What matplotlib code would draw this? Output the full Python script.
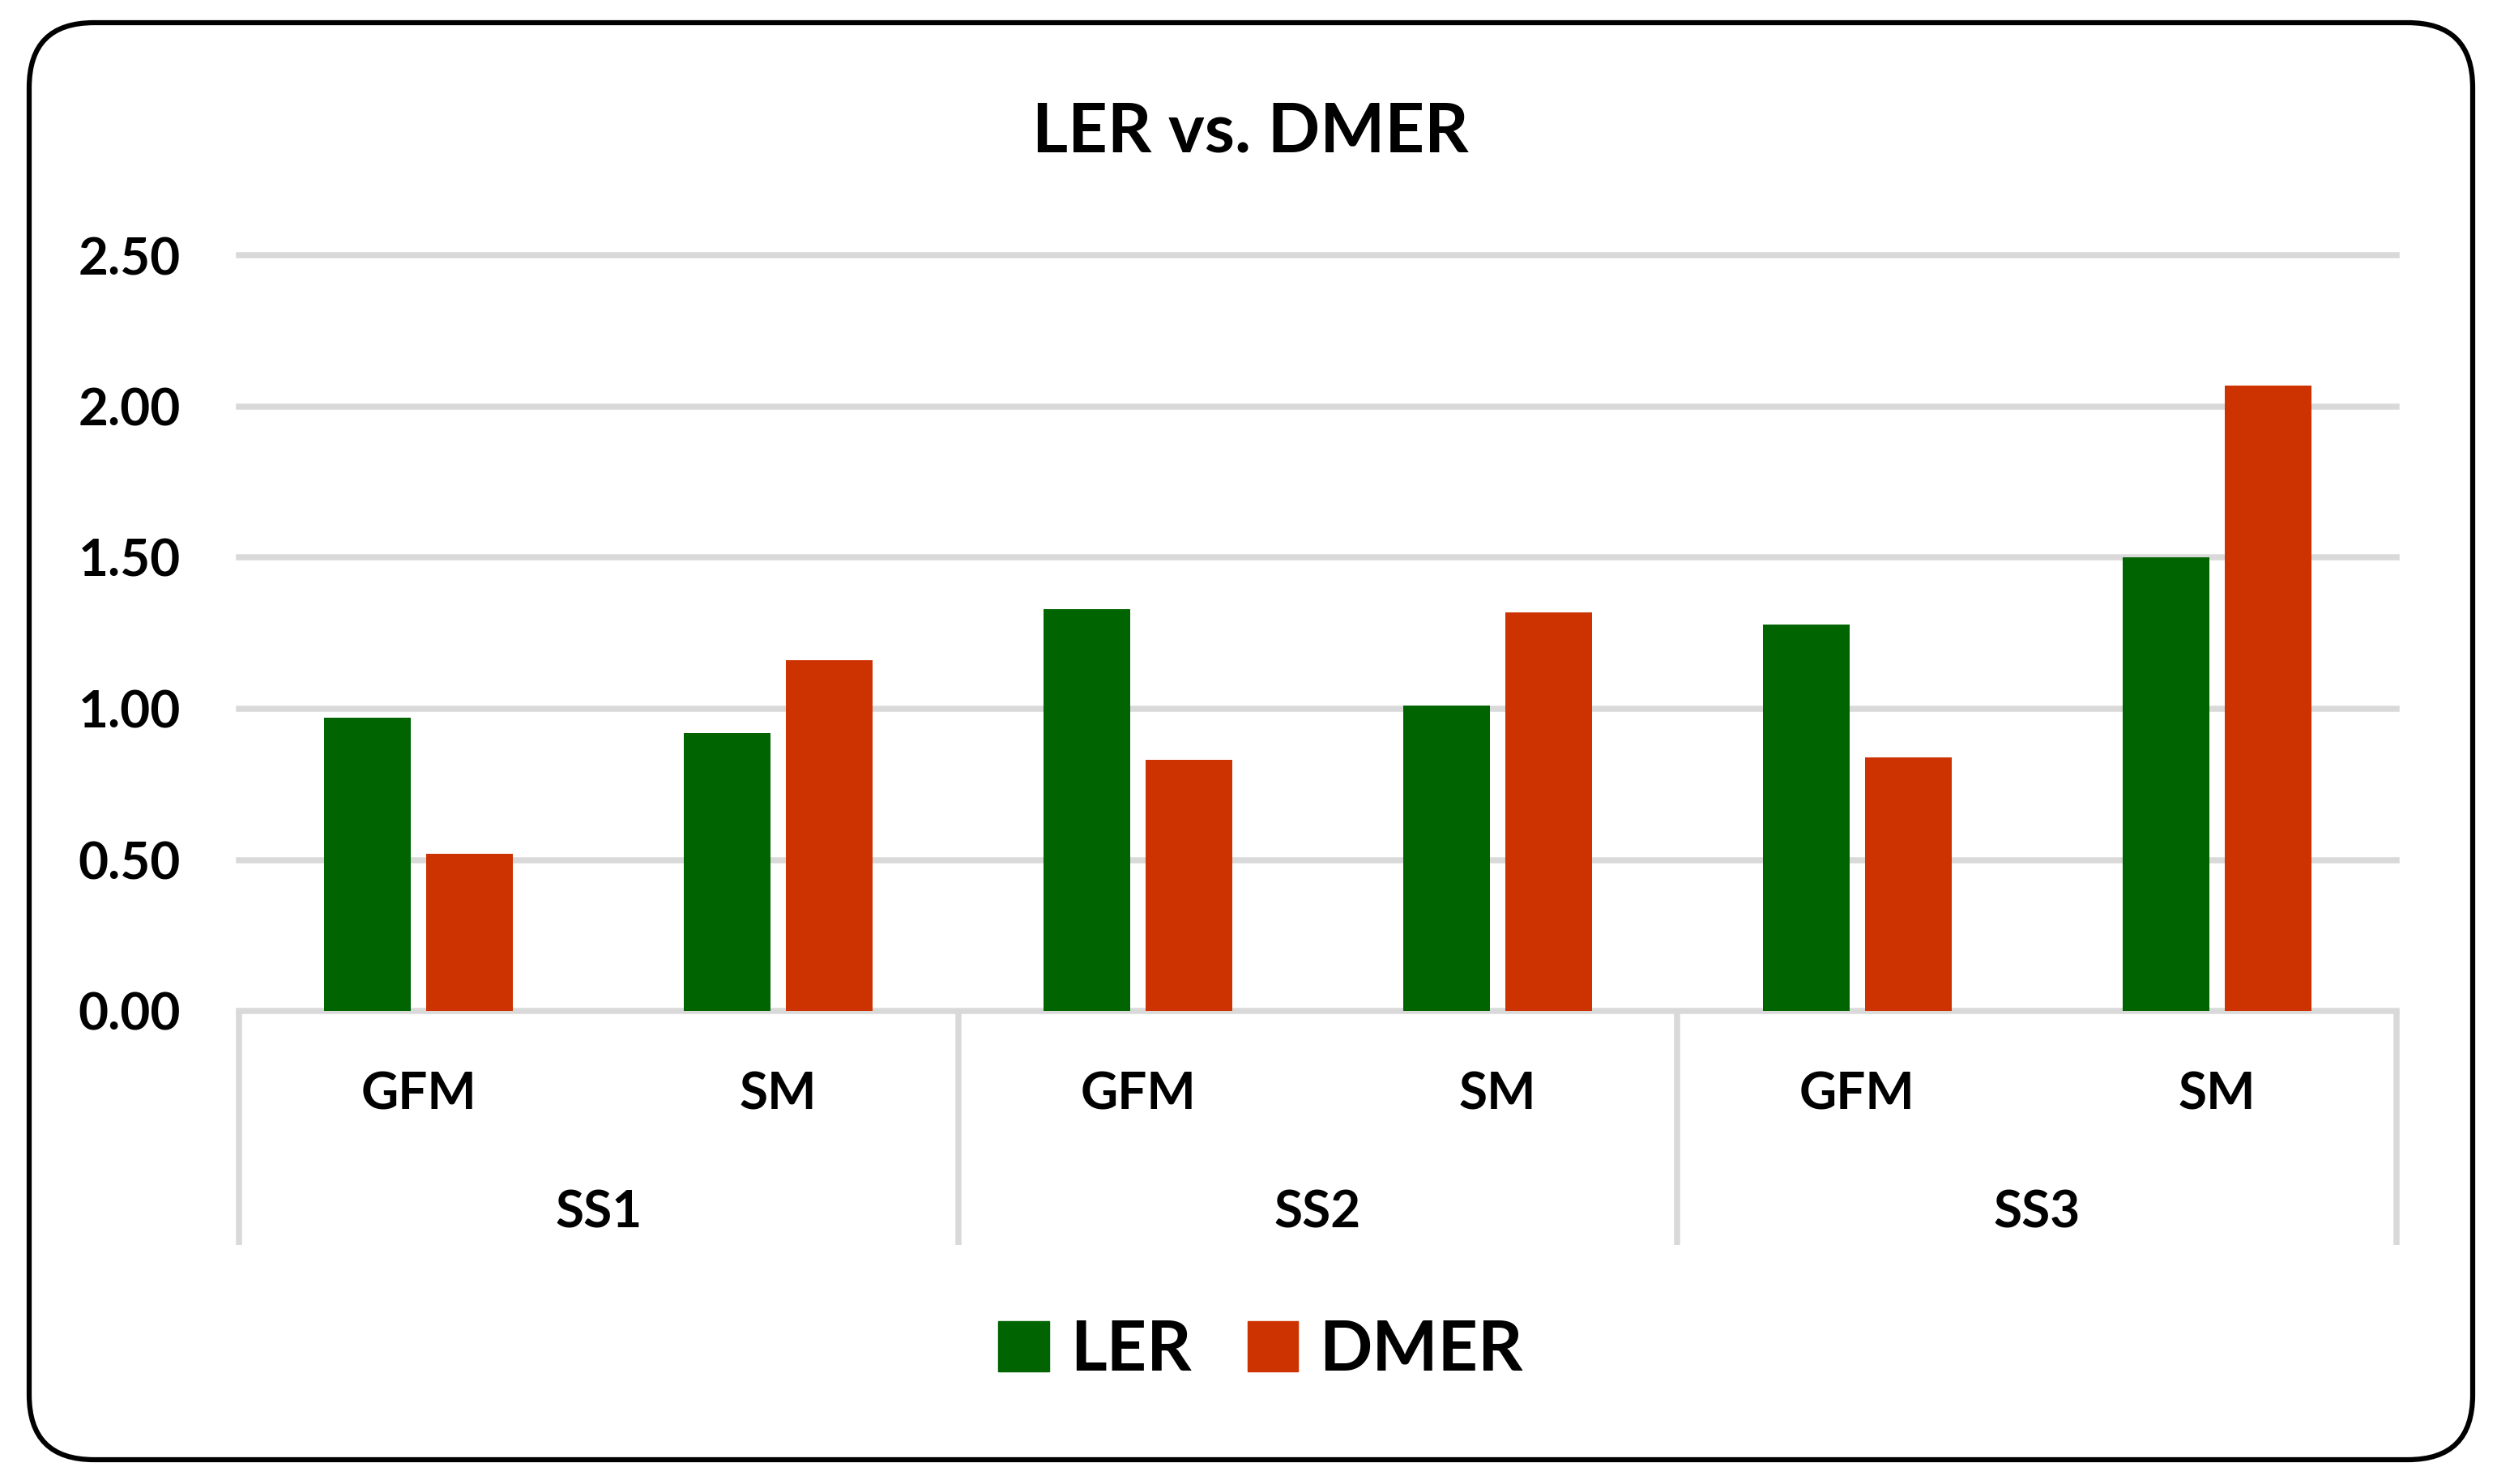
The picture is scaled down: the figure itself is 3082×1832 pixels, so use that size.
import numpy as np
from matplotlib import pyplot as plt
from matplotlib.patches import FancyBboxPatch, Patch

# data
stations = ['SS1', 'SS2', 'SS3']
methods = ['GFM', 'SM']
ler = [0.97, 0.92, 1.33, 1.01, 1.28, 1.50]
dmer = [0.52, 1.16, 0.83, 1.32, 0.84, 2.07]
yticks = [0.0, 0.5, 1.0, 1.5, 2.0, 2.5]

green = '#006400'
red = '#CC3300'
grid_c = '#D9D9D9'

plt.rcParams['font.family'] = ['Lato', 'DejaVu Sans']
plt.rcParams['font.weight'] = 'bold'

W, H = 3082, 1832
fig = plt.figure(figsize=(W / 100, H / 100), dpi=100)

# rounded frame around the whole chart, in pixel units
bg = fig.add_axes([0, 0, 1, 1])
bg.set_xlim(0, W)
bg.set_ylim(0, H)
bg.axis('off')
bg.add_patch(FancyBboxPatch((36, 30), 3016, 1774, boxstyle='round,pad=0,rounding_size=80',
                            fc='white', ec='black', lw=4.5))

ax = fig.add_axes([295 / W, 1 - 1248 / H, 2663 / W, 932.5 / H])
ax.set_facecolor('none')

x = np.arange(len(ler)) + 0.5
bw = 0.241
off = 0.142
ax.bar(x - off, ler, bw, color=green, zorder=2)
ax.bar(x + off, dmer, bw, color=red, zorder=2)

ax.set_xlim(0, len(ler))
ax.set_ylim(0, 2.5)
for y in yticks:
    ax.axhline(y, color=grid_c, lw=5.4, zorder=1, clip_on=False)
for s in ax.spines.values():
    s.set_visible(False)

ax.set_yticks(yticks)
ax.set_yticklabels(['{:.2f}'.format(v) for v in yticks])
ax.tick_params(axis='y', length=0, pad=52, labelsize=46)
ax.set_xticks([])

# two level category axis
tr = ax.get_xaxis_transform()
for i, st in enumerate(stations):
    for j, m in enumerate(methods):
        ax.text(2 * i + j + 0.5, -0.105, m, transform=tr, ha='center', va='center_baseline', fontsize=46)
    ax.text(2 * i + 1, -0.262, st, transform=tr, ha='center', va='center_baseline', fontsize=46)
for k in range(len(stations) + 1):
    ax.plot([2 * k, 2 * k], [0, -0.31], transform=tr, color=grid_c, lw=5.4,
            clip_on=False, solid_capstyle='butt')

fig.text(1543 / W, 1 - 187 / H, 'LER vs. DMER', ha='center', va='baseline', fontsize=61)

handles = [Patch(color=green, label='LER'), Patch(color=red, label='DMER')]
fig.legend(handles=handles, loc='center', bbox_to_anchor=(1556 / W, 1 - 1668 / H), ncol=2,
           frameon=False, fontsize=62, handlelength=0.73, handleheight=0.73,
           handletextpad=0.3, columnspacing=0.8)

fig.savefig('out.png', dpi=100)
